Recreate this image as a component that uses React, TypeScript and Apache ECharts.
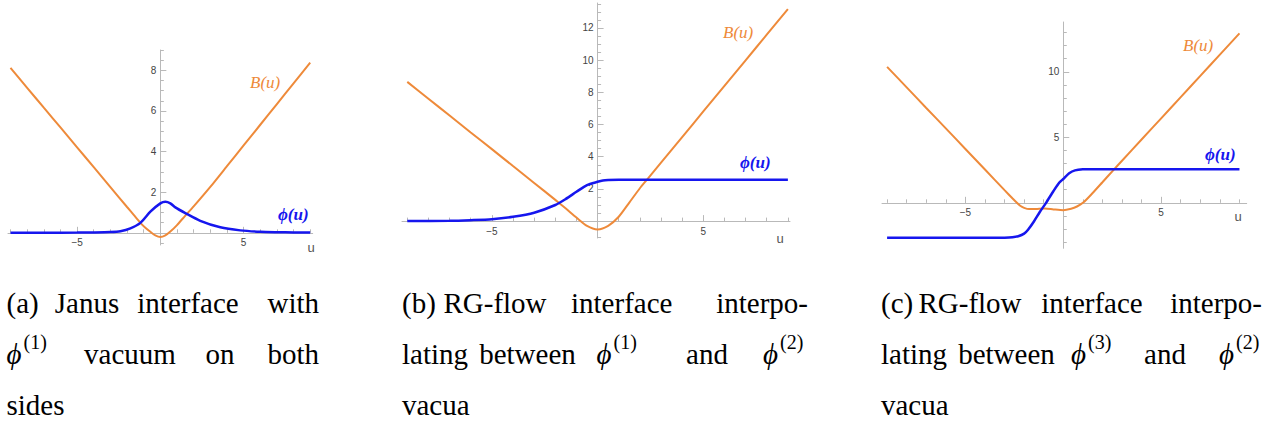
import React, { useEffect, useRef } from "react";
import * as echarts from "echarts";

// ---- panel (a): Janus interface ----
const A_B_U = [-9, -8, -7, -6, -5, -4, -3, -2, -1.6, -1.2, -0.9, -0.6, -0.3, 0, 0.3, 0.6, 1, 1.5, 2, 3, 4, 5, 6, 7, 8, 9];
const A_B = [8.12, 7.14, 6.16, 5.19, 4.21, 3.23, 2.25, 1.27, 0.88, 0.49, 0.25, 0.05, -0.13, -0.21, -0.13, 0.06, 0.38, 0.85, 1.3, 2.26, 3.28, 4.3, 5.32, 6.34, 7.36, 8.38];
const A_PHI_U = [-9, -7, -5, -4, -3, -2.4, -1.8, -1.2, -0.6, 0, 0.3, 0.6, 0.9, 1.5, 2.4, 3.6, 4.8, 6, 7, 8, 9];
const A_PHI = [0, 0, 0.01, 0.02, 0.04, 0.08, 0.22, 0.49, 1.04, 1.45, 1.53, 1.45, 1.25, 0.97, 0.59, 0.27, 0.12, 0.05, 0.03, 0.02, 0.01];

// ---- panel (b): RG-flow between phi(1) and phi(2) ----
const B_B_U = [-9, -8, -7, -6, -5, -4, -3, -2, -1.5, -1, -0.5, 0, 0.5, 1, 1.5, 2, 2.32, 3, 4, 5, 6, 7, 8, 9];
const B_B = [8.65, 7.6, 6.56, 5.51, 4.47, 3.42, 2.37, 1.32, 0.78, 0.22, -0.3, -0.52, -0.3, 0.27, 1.15, 2.04, 2.55, 3.63, 5.22, 6.81, 8.4, 9.99, 11.58, 13.17];
const B_PHI_U = [-9, -7, -6, -5, -4, -3, -2, -1.5, -1, -0.5, 0, 0.25, 0.5, 1, 2, 4, 9];
const B_PHI = [0, 0.02, 0.06, 0.12, 0.27, 0.52, 1.0, 1.38, 1.82, 2.24, 2.44, 2.52, 2.55, 2.57, 2.57, 2.57, 2.57];

// ---- panel (c): RG-flow between phi(3) and phi(2) ----
const C_B_U = [-9, -8, -7, -6, -5, -4, -3, -2.6, -2.38, -2.2, -2, -1.75, -1.4, -0.94, -0.5, 0, 0.4, 0.7, 1.02, 1.5, 2, 2.55, 3, 4, 5, 6, 7, 8, 9];
const C_B = [10.38, 8.81, 7.24, 5.68, 4.11, 2.54, 0.97, 0.35, 0.02, -0.22, -0.38, -0.48, -0.47, -0.43, -0.5, -0.56, -0.45, -0.28, 0.02, 0.75, 1.57, 2.48, 3.21, 4.83, 6.45, 8.07, 9.69, 11.31, 12.93];
const C_PHI_U = [-9, -4, -3, -2.6, -2.3, -2.0, -1.8, -1.5, -1.2, -0.88, -0.5, -0.2, 0, 0.3, 0.6, 1, 1.5, 2, 9];
const C_PHI = [-2.67, -2.67, -2.66, -2.63, -2.55, -2.35, -2.05, -1.42, -0.7, 0, 0.9, 1.55, 1.82, 2.25, 2.48, 2.56, 2.57, 2.57, 2.57];

// tick labels
const X_LABELS = [-5, 5];
const A_Y_LABELS = [2, 4, 6, 8];
const B_Y_LABELS = [2, 4, 6, 8, 10, 12];
const C_Y_LABELS = [5, 10];

const ORANGE = "#EE8A3A";
const BLUE = "#1616EE";
const AXIS = "#b9b9b9";
const SERIF = "'Liberation Serif', 'DejaVu Serif', serif";
const SANS = "'Liberation Sans', Arial, sans-serif";

// panel frames: pixel box and axis ranges
const PANELS = [
  { left: 8, top: 50, width: 304.7, height: 195, xMin: -9.15, xMax: 9.15, yMin: -0.6, yMax: 9.0 },
  { left: 402, top: 3, width: 388, height: 235, xMin: -9.25, xMax: 9.1, yMin: -1.05, yMax: 13.55 },
  { left: 882, top: 22, width: 364.7, height: 226.3, xMin: -9.26, xMax: 9.37, yMin: -3.47, yMax: 13.8 },
];

function steps(from: number, to: number, step: number): number[] {
  const out: number[] = [];
  for (let v = from; v <= to + 1e-9; v += step) {
    const r = Math.round(v * 100) / 100;
    if (r !== 0) out.push(r);
  }
  return out;
}

const pairs = (us: number[], vs: number[]) => us.map((u, i) => [u, vs[i]]);
const fmt = (v: number) => (v < 0 ? "\u2212" + Math.abs(v) : String(v));

// x axis shifted up so that it runs through y = 0.
// `major` draws only the longer ticks under the labels (no line, no labels).
function xAxis(i: number, major = false) {
  const p = PANELS[i];
  const offset = -((0 - p.yMin) / (p.yMax - p.yMin)) * p.height;
  return {
    type: "value",
    gridIndex: i,
    min: p.xMin,
    max: p.xMax,
    position: "bottom",
    offset,
    axisLine: { show: !major, onZero: false, lineStyle: { color: AXIS, width: 1 } },
    axisTick: {
      show: true,
      inside: true,
      length: major ? 6 : 3.5,
      customValues: major ? X_LABELS : steps(-9, 9, 1),
      lineStyle: { color: AXIS },
    },
    axisLabel: major
      ? { show: false }
      : { customValues: X_LABELS, formatter: fmt, color: "#444", fontSize: 10, fontFamily: SANS, margin: 5 },
    splitLine: { show: false },
  };
}

// y axis shifted right so that it runs through u = 0
function yAxis(i: number, tickFrom: number, tickTo: number, tickStep: number, labels: number[], major = false) {
  const p = PANELS[i];
  const offset = -((0 - p.xMin) / (p.xMax - p.xMin)) * p.width;
  return {
    type: "value",
    gridIndex: i,
    min: p.yMin,
    max: p.yMax,
    position: "left",
    offset,
    axisLine: { show: !major, onZero: false, lineStyle: { color: AXIS, width: 1 } },
    axisTick: {
      show: true,
      inside: true,
      length: major ? 6 : 3.5,
      customValues: major ? labels : steps(tickFrom, tickTo, tickStep),
      lineStyle: { color: AXIS },
    },
    axisLabel: major
      ? { show: false }
      : { customValues: labels, formatter: fmt, color: "#444", fontSize: 10, fontFamily: SANS, margin: 4 },
    splitLine: { show: false },
  };
}

function curve(idx: number, data: number[][], color: string, width: number) {
  return {
    type: "line",
    xAxisIndex: idx,
    yAxisIndex: idx,
    data,
    showSymbol: false,
    smooth: 0.25,
    lineStyle: { color, width },
    silent: true,
  };
}

function txt(text: string, x: number, y: number, opts: any = {}) {
  const align = opts.align || "left";
  return {
    type: "text",
    x,
    y,
    silent: true,
    style: {
      text,
      fontSize: opts.size || 29,
      fontFamily: opts.family || SERIF,
      fontStyle: opts.italic ? "italic" : "normal",
      fontWeight: opts.bold ? "bold" : "normal",
      fill: opts.color || "#000",
      align,
      textAlign: align,
      verticalAlign: "middle",
      textVerticalAlign: "middle",
    },
  };
}

// caption helpers: a text line whose baseline is at `base`
const MID = 8; // distance from baseline to text middle
function word(text: string, x: number, base: number, align = "left") {
  return txt(text, x, base - MID, { align });
}
function phiSup(x: number, base: number, sup: string) {
  return [
    txt("\u03D5", x, base - MID, { italic: true }),
    txt(sup, x + 17, base - 20, { size: 20 }),
  ];
}

const L1 = 311;
const L2 = 362;
const L3 = 413;

const captions = [
  // (a)
  word("(a)", 6.5, L1),
  word("Janus", 87, L1, "center"),
  word("interface", 188, L1, "center"),
  word("with", 319, L1, "right"),
  ...phiSup(6.5, L2, "(1)"),
  word("vacuum", 130, L2, "center"),
  word("on", 220, L2, "center"),
  word("both", 319, L2, "right"),
  word("sides", 6.5, L3),
  // (b)
  word("(b)", 402, L1),
  word("RG-flow", 495, L1, "center"),
  word("interface", 621.7, L1, "center"),
  word("interpo-", 808, L1, "right"),
  word("lating", 402, L2),
  word("between", 527.5, L2, "center"),
  ...phiSup(596.6, L2, "(1)"),
  word("and", 707, L2, "center"),
  ...phiSup(763, L2, "(2)"),
  word("vacua", 402, L3),
  // (c)
  word("(c)", 881, L1),
  word("RG-flow", 970, L1, "center"),
  word("interface", 1092, L1, "center"),
  word("interpo-", 1262, L1, "right"),
  word("lating", 881, L2),
  word("between", 1006.5, L2, "center"),
  ...phiSup(1071, L2, "(3)"),
  word("and", 1165, L2, "center"),
  ...phiSup(1219, L2, "(2)"),
  word("vacua", 881, L3),
];

const curveLabels = [
  txt("B(u)", 250, 82, { italic: true, size: 17, color: ORANGE }),
  txt("\u03D5(u)", 278, 214, { italic: true, bold: true, size: 17, color: BLUE }),
  txt("B(u)", 723, 32, { italic: true, size: 17, color: ORANGE }),
  txt("\u03D5(u)", 740, 162, { italic: true, bold: true, size: 17, color: BLUE }),
  txt("B(u)", 1183, 45, { italic: true, size: 17, color: ORANGE }),
  txt("\u03D5(u)", 1205, 154, { italic: true, bold: true, size: 17, color: BLUE }),
];

const axisNames = [
  txt("u", 311, 247, { align: "center", size: 13, family: SANS, color: "#555" }),
  txt("u", 780, 238, { align: "center", size: 13, family: SANS, color: "#555" }),
  txt("u", 1238, 216, { align: "center", size: 13, family: SANS, color: "#555" }),
];

export default function App() {
  const ref = useRef<HTMLDivElement>(null);

  useEffect(() => {
    if (!ref.current) return;
    const chart = echarts.init(ref.current, undefined, { renderer: "svg" });
    chart.setOption({
      animation: false,
      backgroundColor: "#ffffff",
      grid: PANELS.map((p) => ({ left: p.left, top: p.top, width: p.width, height: p.height })),
      xAxis: [xAxis(0), xAxis(1), xAxis(2), xAxis(0, true), xAxis(1, true), xAxis(2, true)],
      yAxis: [
        yAxis(0, -0.5, 9.0, 0.5, A_Y_LABELS),
        yAxis(1, -1, 13.5, 0.5, B_Y_LABELS),
        yAxis(2, -3, 13, 1, C_Y_LABELS),
        yAxis(0, -0.5, 9.0, 0.5, A_Y_LABELS, true),
        yAxis(1, -1, 13.5, 0.5, B_Y_LABELS, true),
        yAxis(2, -3, 13, 1, C_Y_LABELS, true),
      ],
      series: [
        curve(0, pairs(A_B_U, A_B), ORANGE, 2),
        curve(0, pairs(A_PHI_U, A_PHI), BLUE, 2.5),
        curve(1, pairs(B_B_U, B_B), ORANGE, 2),
        curve(1, pairs(B_PHI_U, B_PHI), BLUE, 2.5),
        curve(2, pairs(C_B_U, C_B), ORANGE, 2),
        curve(2, pairs(C_PHI_U, C_PHI), BLUE, 2.5),
      ],
      graphic: { elements: [...curveLabels, ...axisNames, ...captions] },
    });
    return () => chart.dispose();
  }, []);

  return (
    <div
      ref={ref}
      style={{ position: "absolute", left: 0, top: 0, width: 1266, height: 427, background: "#fff" }}
    />
  );
}
